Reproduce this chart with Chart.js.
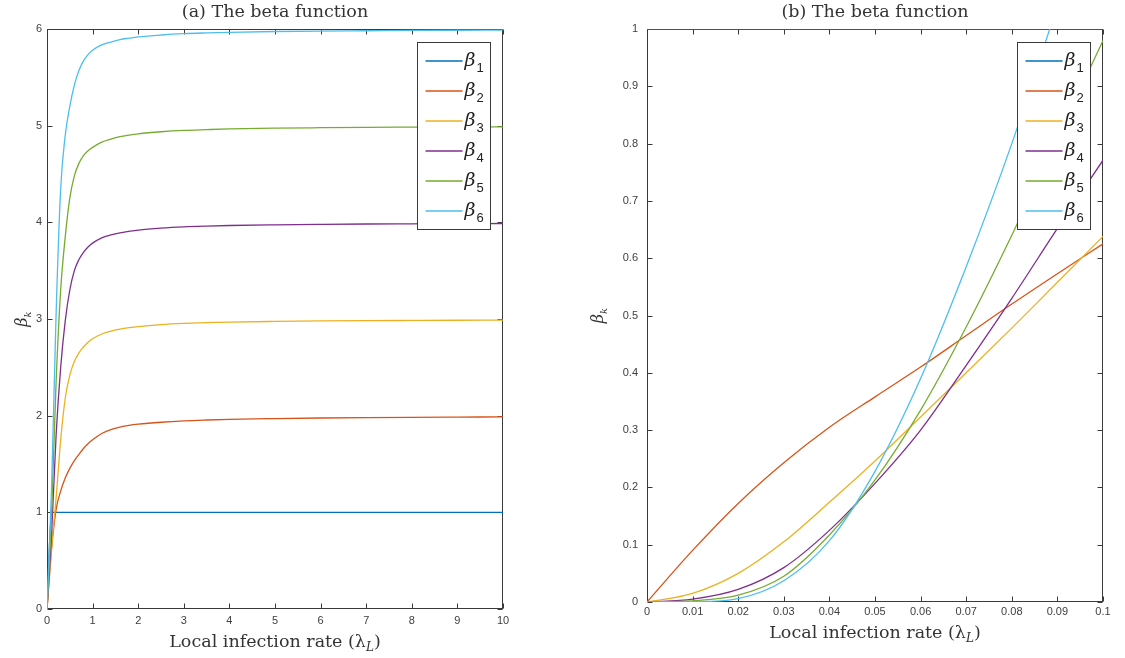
<!DOCTYPE html>
<html>
<head>
<meta charset="utf-8">
<script src="https://cdn.jsdelivr.net/npm/chart.js@4.4.1/dist/chart.umd.min.js"></script>
<style>
  html, body { margin: 0; padding: 0; background: #fff; }
  #links  { position: absolute; left: 0;     top: 0; width: 520px; height: 658px; }
  #rechts { position: absolute; left: 575px; top: 0; width: 550px; height: 651px; }
</style>
</head>
<body>
<div id="links"><canvas id="diagrammLinks"></canvas></div>
<div id="rechts"><canvas id="diagrammRechts"></canvas></div>
<script>
// Stützstellen links: lokale Infektionsrate 0 .. 10
const xLinks = [0, 0.1, 0.2, 0.3, 0.4, 0.5, 0.6, 0.7, 0.8, 0.9, 1, 1.2, 1.4, 1.6, 1.8, 2, 2.5, 3, 3.5, 4, 5, 6, 7, 8, 9, 10];
const beta1Links = [0, 1, 1, 1, 1, 1, 1, 1, 1, 1, 1, 1, 1, 1, 1, 1, 1, 1, 1, 1, 1, 1, 1, 1, 1, 1];
const beta2Links = [0, 0.62, 1.03, 1.22, 1.355, 1.455, 1.535, 1.6, 1.66, 1.71, 1.75, 1.815, 1.855, 1.882, 1.9, 1.912, 1.932, 1.946, 1.955, 1.962, 1.97, 1.976, 1.98, 1.983, 1.985, 1.987];
const beta3Links = [0, 0.64, 1.15, 1.75, 2.18, 2.42, 2.56, 2.65, 2.71, 2.76, 2.795, 2.845, 2.875, 2.895, 2.91, 2.922, 2.942, 2.954, 2.962, 2.968, 2.975, 2.98, 2.983, 2.985, 2.987, 2.988];
const beta4Links = [0, 0.77, 1.8, 2.5, 2.98, 3.3, 3.5, 3.615, 3.69, 3.745, 3.785, 3.84, 3.87, 3.892, 3.907, 3.92, 3.94, 3.953, 3.961, 3.967, 3.974, 3.979, 3.983, 3.985, 3.987, 3.988];
const beta5Links = [0, 0.98, 2.35, 3.3, 3.85, 4.25, 4.48, 4.61, 4.69, 4.74, 4.775, 4.83, 4.862, 4.887, 4.903, 4.916, 4.937, 4.951, 4.959, 4.966, 4.974, 4.979, 4.983, 4.985, 4.987, 4.988];
const beta6Links = [0, 1.25, 3.06, 4.35, 4.9, 5.2, 5.42, 5.57, 5.67, 5.735, 5.78, 5.835, 5.865, 5.89, 5.905, 5.918, 5.938, 5.952, 5.96, 5.966, 5.974, 5.979, 5.982, 5.985, 5.987, 5.988];

// Stützstellen rechts: Ausschnitt 0 .. 0.1
const xRechts = [0, 0.01, 0.02, 0.03, 0.04, 0.05, 0.06, 0.07, 0.08, 0.09, 0.1];
const beta1Rechts = [1, 1, 1, 1, 1, 1, 1, 1, 1, 1, 1];
const beta2Rechts = [0, 0.09, 0.172, 0.243, 0.305, 0.358, 0.41, 0.465, 0.52, 0.573, 0.625];
const beta3Rechts = [0, 0.015, 0.05, 0.105, 0.174, 0.246, 0.323, 0.40, 0.478, 0.558, 0.638];
const beta4Rechts = [0, 0.005, 0.022, 0.06, 0.125, 0.207, 0.30, 0.413, 0.53, 0.652, 0.771];
const beta5Rechts = [0, 0.002, 0.012, 0.045, 0.117, 0.213, 0.335, 0.48, 0.64, 0.81, 0.98];
const beta6Rechts = [0, 0.0005, 0.006, 0.037, 0.107, 0.228, 0.39, 0.585, 0.80, 1.04, 1.27];

const serienNamen = ["β1", "β2", "β3", "β4", "β5", "β6"];
const farben = ["#0072BD", "#D95319", "#EDB120", "#7E2F8E", "#77AC30", "#4DBEEE"];

const achsenFarbe = "#3a3a3a";
const serif = '"DejaVu Serif", serif';

// Text mit tiefgestelltem Teil zentriert zeichnen
function textMitIndex(ctx, teile, x, y, winkel) {
  ctx.save();
  ctx.translate(x, y);
  ctx.rotate(winkel || 0);
  let breite = 0;
  teile.forEach(t => { ctx.font = t.font; breite += ctx.measureText(t.text).width; });
  let pos = -breite / 2;
  ctx.textBaseline = "alphabetic";
  ctx.textAlign = "left";
  teile.forEach(t => {
    ctx.font = t.font;
    ctx.fillText(t.text, pos, t.dy);
    pos += ctx.measureText(t.text).width;
  });
  ctx.restore();
}

// Rahmen, nach innen zeigende Striche, Achsentitel und Legende im MATLAB-Stil
const matlabRahmen = {
  id: "matlabRahmen",
  beforeDatasetsDraw(chart) {
    const { ctx, chartArea: a, scales } = chart;
    const l = Math.round(a.left) + 0.5, r = Math.round(a.right) - 0.5;
    const o = Math.round(a.top) + 0.5, u = Math.round(a.bottom) - 0.5;
    const strich = 5;
    ctx.save();
    ctx.strokeStyle = achsenFarbe;
    ctx.lineWidth = 1;
    ctx.beginPath();
    scales.x.ticks.forEach(t => {
      const px = Math.round(scales.x.getPixelForValue(t.value)) + 0.5;
      ctx.moveTo(px, u); ctx.lineTo(px, u - strich);
      ctx.moveTo(px, o); ctx.lineTo(px, o + strich);
    });
    scales.y.ticks.forEach(t => {
      const py = Math.round(scales.y.getPixelForValue(t.value)) + 0.5;
      ctx.moveTo(l, py); ctx.lineTo(l + strich, py);
      ctx.moveTo(r, py); ctx.lineTo(r - strich, py);
    });
    ctx.stroke();
    ctx.strokeRect(l, o, r - l, u - o);
    ctx.restore();
  },
  afterDatasetsDraw(chart, args, opts) {
    const { ctx, chartArea: a } = chart;
    ctx.save();
    ctx.fillStyle = "#333";

    // x-Achsentitel
    textMitIndex(ctx, [
      { text: "Local infection rate (λ", font: "17.5px " + serif, dy: 0 },
      { text: "L", font: "italic 12px " + serif, dy: 4 },
      { text: ")", font: "17.5px " + serif, dy: 0 }
    ], (a.left + a.right) / 2, a.bottom + opts.xTitelAbstand, 0);

    // y-Achsentitel
    textMitIndex(ctx, [
      { text: "β", font: "italic 16px " + serif, dy: 0 },
      { text: "k", font: "italic 10px " + serif, dy: 4 }
    ], a.left - opts.yTitelAbstand, (a.top + a.bottom) / 2, -Math.PI / 2);

    // Legende oben rechts im Zeichenbereich
    const bw = 73, bh = 187;
    const bx = Math.round(a.right - 13 - bw) + 0.5, by = Math.round(a.top + 13) + 0.5;
    ctx.fillStyle = "#fff";
    ctx.fillRect(bx, by, bw, bh);
    ctx.strokeStyle = achsenFarbe;
    ctx.lineWidth = 1;
    ctx.strokeRect(bx, by, bw, bh);
    chart.data.datasets.forEach((ds, i) => {
      const y = by + 18.5 + i * 30;
      ctx.strokeStyle = ds.borderColor;
      ctx.lineWidth = ds.borderWidth;
      ctx.beginPath();
      ctx.moveTo(bx + 8, y);
      ctx.lineTo(bx + 45, y);
      ctx.stroke();
      ctx.fillStyle = "#222";
      ctx.textAlign = "left";
      ctx.textBaseline = "alphabetic";
      ctx.font = "italic 19px " + serif;
      ctx.fillText(ds.label[0], bx + 47, y + 5);
      const w = ctx.measureText(ds.label[0]).width;
      ctx.font = "13px \"Liberation Sans\", sans-serif";
      ctx.fillText(ds.label.slice(1), bx + 47 + w + 1, y + 11);
    });
    ctx.restore();
  }
};

// Zahlen ohne überflüssige Nullen: 0, 0.01, 0.1, 1
const tickText = v => String(Math.round(v * 1000) / 1000);

function erstelleDiagramm(canvasId, titel, xWerte, reihen, ein) {
  const datasets = reihen.map((werte, i) => ({
    label: serienNamen[i],
    data: xWerte.map((x, j) => ({ x: x, y: werte[j] })),
    borderColor: farben[i],
    backgroundColor: farben[i],
    borderWidth: 1.3,
    pointRadius: 0,
    cubicInterpolationMode: "monotone",
    order: reihen.length - i
  }));

  const tickSchrift = { family: '"Liberation Sans", Arial, sans-serif', size: 11 };

  new Chart(document.getElementById(canvasId), {
    type: "line",
    data: { datasets: datasets },
    options: {
      responsive: true,
      maintainAspectRatio: false,
      animation: false,
      devicePixelRatio: 1,
      layout: { padding: { right: ein.rechterRand } },
      plugins: {
        legend: { display: false },
        tooltip: { enabled: false },
        title: {
          display: true,
          text: titel,
          fullSize: false,
          color: "#333",
          font: { family: serif, size: 17.5, weight: "normal" },
          padding: { top: 2, bottom: 6 }
        },
        matlabRahmen: { xTitelAbstand: ein.xTitelAbstand, yTitelAbstand: ein.yTitelAbstand }
      },
      scales: {
        x: {
          type: "linear",
          min: 0,
          max: ein.xMax,
          afterFit: s => { s.height = 49; },
          grid: { display: false, drawTicks: false },
          border: { display: false },
          ticks: { stepSize: ein.xSchritt, autoSkip: false, maxRotation: 0, padding: ein.xPadding, font: tickSchrift, color: "#404040", callback: tickText }
        },
        y: {
          type: "linear",
          min: 0,
          max: ein.yMax,
          afterFit: s => { s.width = ein.yBreite; },
          grid: { display: false, drawTicks: false },
          border: { display: false },
          ticks: { stepSize: ein.ySchritt, autoSkip: false, padding: ein.yPadding, font: tickSchrift, color: "#404040", callback: tickText }
        }
      }
    },
    plugins: [matlabRahmen]
  });
}

erstelleDiagramm("diagrammLinks", "(a) The beta function", xLinks,
  [beta1Links, beta2Links, beta3Links, beta4Links, beta5Links, beta6Links],
  { xMax: 10, xSchritt: 1, yMax: 6, ySchritt: 1, yBreite: 47, rechterRand: 17,
    xPadding: 5, yPadding: 5, xTitelAbstand: 38, yTitelAbstand: 20 });

erstelleDiagramm("diagrammRechts", "(b) The beta function", xRechts,
  [beta1Rechts, beta2Rechts, beta3Rechts, beta4Rechts, beta5Rechts, beta6Rechts],
  { xMax: 0.1, xSchritt: 0.01, yMax: 1, ySchritt: 0.1, yBreite: 72, rechterRand: 22,
    xPadding: 3, yPadding: 9, xTitelAbstand: 36, yTitelAbstand: 44 });
</script>
</body>
</html>
